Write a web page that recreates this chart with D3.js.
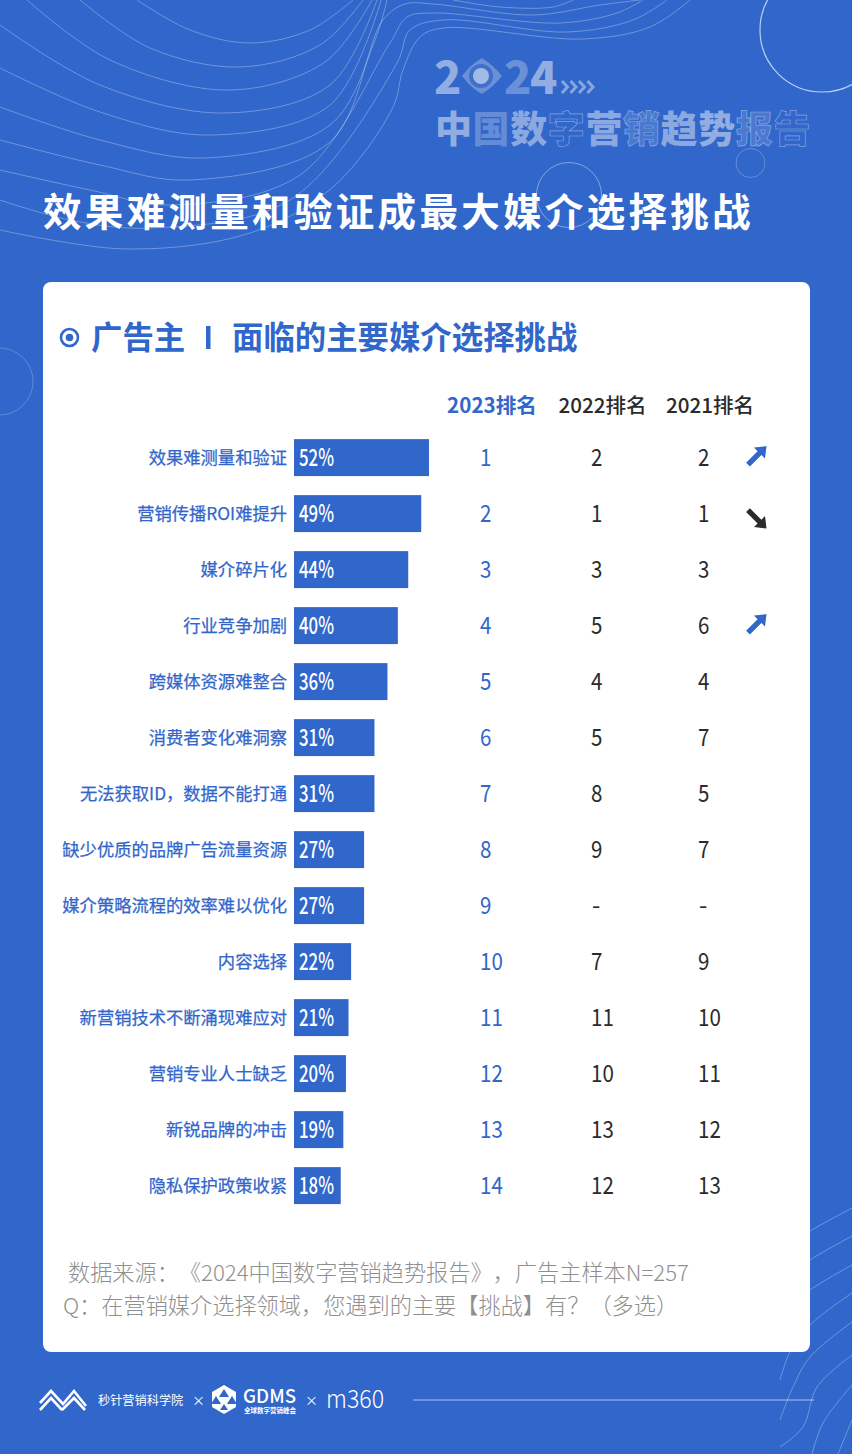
<!DOCTYPE html>
<html><head><meta charset="utf-8">
<script src="https://cdn.jsdelivr.net/npm/d3@7/dist/d3.min.js"></script>
<style>html,body{margin:0;padding:0;background:#3166ca}svg{display:block}text{font-family:"Noto Sans CJK SC","Noto Sans",sans-serif;text-spacing-trim:space-all;font-feature-settings:"chws" 0}</style>
</head><body><svg id="c" width="852" height="1454"></svg>
<script>
const categories=["效果难测量和验证","营销传播ROI难提升","媒介碎片化","行业竞争加剧","跨媒体资源难整合","消费者变化难洞察","无法获取ID，数据不能打通","缺少优质的品牌广告流量资源","媒介策略流程的效率难以优化","内容选择","新营销技术不断涌现难应对","营销专业人士缺乏","新锐品牌的冲击","隐私保护政策收紧"];
const shares=[52,49,44,40,36,31,31,27,27,22,21,20,19,18];
const rank2023=["1","2","3","4","5","6","7","8","9","10","11","12","13","14"];
const rank2022=["2","1","3","5","4","5","8","9","-","7","11","10","13","12"];
const rank2021=["2","1","3","6","4","7","5","7","-","9","10","11","12","13"];
const rankHeaders=["2023排名","2022排名","2021排名"];
const trends=["up","down",null,"up",null,null,null,null,null,null,null,null,null,null];
const blue="#3166ca",dark="#2b2b2b";
const svg=d3.select("#c");
svg.append("rect").attr("width",852).attr("height",1454).attr("fill",blue);

// decorative contours
const deco=svg.append("g").attr("fill","none").attr("stroke","#fff").attr("stroke-opacity",.3);
const curve=d3.line().curve(d3.curveCatmullRom.alpha(.5));
const contours=[
 [[137,0],[190,30],[250,43],[310,30],[353,0]],
 [[80,0],[150,48],[240,67],[320,45],[363,0]],
 [[27,0],[110,60],[230,90],[325,62],[372,0]],
 [[0,25],[100,85],[225,113],[330,85],[377,0]],
 [[0,68],[100,112],[210,135],[330,105],[381,0]],
 [[0,107],[100,140],[205,158],[330,125],[375,40],[387,0]],
 [[0,140],[100,165],[190,180],[330,142],[383,20],[405,4],[433,4],[533,15],[600,5],[640,0]],
 [[0,170],[90,190],[170,205],[300,175],[390,43],[407,17],[433,13],[560,23],[617,13],[643,0]],
 [[0,200],[70,220],[150,228],[290,200],[397,63],[410,30],[443,20],[567,32],[633,20],[667,0]],
 [[0,230],[127,249],[250,233],[333,187],[393,107],[403,70],[420,37],[443,28],[583,39],[650,27],[690,0]],
 [[453,0],[500,7],[553,7],[573,0]]
];
contours.forEach(p=>deco.append("path").attr("d",curve(p)));
const bottomContours=[
 [[852,1208],[810,1231],[780,1250]],
 [[852,1236],[810,1260],[780,1282]],
 [[852,1265],[810,1290],[780,1315]],
 [[852,1293],[810,1325],[790,1352],[780,1380]],
 [[852,1322],[810,1357],[793,1387],[780,1420]],
 [[852,1355],[817,1387],[803,1427],[780,1447]],
 [[852,1385],[823,1423],[812,1454]],
 [[852,1420],[838,1454]]
];
bottomContours.forEach(p=>deco.append("path").attr("d",curve(p)));
deco.append("circle").attr("cx",822).attr("cy",30).attr("r",62).attr("stroke","#cfe0ff").attr("stroke-opacity",.85).attr("stroke-width",1.2);
deco.append("circle").attr("cx",569).attr("cy",195).attr("r",32.5).attr("stroke-opacity",.4);
deco.append("circle").attr("cx",750.5).attr("cy",163).attr("r",14.5).attr("stroke-opacity",.25);
deco.append("circle").attr("cx",-0.5).attr("cy",381.5).attr("r",33.5).attr("stroke-opacity",.22);

// top-right title
const logo=svg.append("g").attr("fill","#fff");
logo.append("text").attr("x",434).attr("y",94).attr("font-size",45).attr("font-weight",900).attr("fill-opacity",.48).text("2");
logo.append("path").attr("d","M462 76 Q471 64 482 58 Q493 65 502 76 Q493 87 482 94 Q471 88 462 76 Z").attr("fill-opacity",.28);
logo.append("circle").attr("cx",481).attr("cy",76).attr("r",12).attr("fill",blue).attr("fill-opacity",.75);
logo.append("circle").attr("cx",481).attr("cy",76).attr("r",8).attr("fill-opacity",.52);
logo.append("text").attr("x",504).attr("y",94).attr("font-size",45).attr("font-weight",900).attr("fill-opacity",.3).text("2");
logo.append("text").attr("x",530).attr("y",94).attr("font-size",45).attr("font-weight",900).attr("fill-opacity",.48).text("4");
[0,1,2,3].forEach(i=>logo.append("path").attr("d",`M${562+i*8.5} 81 l5.5 6 l-5.5 6`).attr("fill","none").attr("stroke","#fff").attr("stroke-width",3).attr("stroke-opacity",.42));
const bannerChars=["中","国","数","字","营","销","趋","势","报","告"];
const bannerAlpha=[.48,.25,.45,0,.45,.12,.45,.48,.15,0];
const bannerOutlined=[0,0,0,1,0,1,0,0,1,1];
bannerChars.forEach((ch,i)=>{
  const t=logo.append("text").attr("x",435+i*37.6).attr("y",143).attr("font-size",37).attr("font-weight",900).attr("fill-opacity",bannerAlpha[i]).text(ch);
  if(bannerOutlined[i]) t.attr("stroke","#fff").attr("stroke-opacity",.4).attr("stroke-width",.7);
});

svg.append("text").attr("x",43).attr("y",226).attr("font-size",38.5).attr("font-weight",700).attr("fill","#fff").attr("letter-spacing",3.32).text("效果难测量和验证成最大媒介选择挑战");

// card
svg.append("rect").attr("x",43).attr("y",282).attr("width",767).attr("height",1070).attr("rx",8).attr("fill","#fff");
svg.append("circle").attr("cx",69.5).attr("cy",337.5).attr("r",8.5).attr("fill","none").attr("stroke",blue).attr("stroke-width",2.6);
svg.append("circle").attr("cx",69.5).attr("cy",337.5).attr("r",3.8).attr("fill",blue);
svg.append("text").attr("x",91).attr("y",349).attr("font-size",31.4).attr("font-weight",700).attr("fill",blue).text("广告主");
svg.append("rect").attr("x",206).attr("y",326).attr("width",4.5).attr("height",23).attr("fill",blue);
svg.append("text").attr("x",232).attr("y",349).attr("font-size",31.4).attr("font-weight",700).attr("fill",blue).text("面临的主要媒介选择挑战");

// scales
const y=d3.scaleBand().domain(categories).range([429.6,1213.6]).paddingInner(.34).paddingOuter(.17);
const x=d3.scaleLinear().domain([0,52]).range([294,429]);
const cols=d3.scaleOrdinal().domain(rankHeaders).range([480,591,698]);
const headX=[492,602.5,710];
rankHeaders.forEach((h,i)=>svg.append("text").attr("x",headX[i]).attr("y",413).attr("text-anchor","middle").attr("font-size",20.6).attr("font-weight",i?500:600).attr("fill",i?dark:blue).text(h));

const rows=svg.selectAll("g.row").data(categories).join("g").attr("class","row");
const cy=d=>y(d)+y.bandwidth()/2;
rows.append("text").attr("x",287).attr("y",d=>cy(d)+6.2).attr("text-anchor","end").attr("font-size",17.3).attr("fill",blue).attr("stroke",blue).attr("stroke-width",.25).text(d=>d);
rows.append("rect").attr("x",x(0)).attr("y",d=>y(d)).attr("height",y.bandwidth()).attr("width",(d,i)=>x(shares[i])-x(0)).attr("fill",blue);
rows.append("text").attr("x",299).attr("y",d=>cy(d)+8.5).attr("font-size",24).attr("font-weight",500).attr("fill","#fff")
  .attr("textLength",35).attr("lengthAdjust","spacingAndGlyphs").text((d,i)=>shares[i]+"%");
[[rank2023,blue],[rank2022,dark],[rank2021,dark]].forEach(([arr,col],k)=>{
  rows.append("text").attr("x",cols(rankHeaders[k])).attr("y",d=>cy(d)+8.5).attr("font-size",24).attr("fill",col)
   .each(function(d,i){const s=arr[i],t=d3.select(this).text(s);
     if(s!=="-"){t.attr("textLength",s.length*11.4).attr("lengthAdjust","spacingAndGlyphs");}
     else t.attr("dx",1);});
});
// trend arrows
rows.filter((d,i)=>trends[i]).each(function(d){
  const i=categories.indexOf(d),up=trends[i]==="up";
  const c=cy(d),g=d3.select(this).append("g").attr("transform",`translate(756,${up?c-1:c+4.5}) rotate(${up?0:90})`).attr("fill",up?blue:dark);
  g.append("path").attr("d","M-9.9 6.1 L1.6 -5.4 L-2 -9 L10.5 -10.5 L9 2 L5.4 -1.6 L-6.1 9.9 Z");
});

// source notes
svg.append("text").attr("x",68).attr("y",1281).attr("font-size",22.2).attr("font-weight",300).attr("fill","#8f8f8f").text("数据来源：《2024中国数字营销趋势报告》，广告主样本N=257");
svg.append("text").attr("x",63).attr("y",1314).attr("font-size",22.2).attr("font-weight",300).attr("fill","#8f8f8f").text("Q：在营销媒介选择领域，您遇到的主要【挑战】有？（多选）");

// footer
const f=svg.append("g").attr("fill","#fff");
f.append("path").attr("d","M40 1403 L51 1391 L63 1404 L74 1391 L86 1406 M40 1410 L51 1398 L62 1410 M62 1410 L74 1398 L85 1410").attr("fill","none").attr("stroke","#fff").attr("stroke-width",2.6);
f.append("text").attr("x",98).attr("y",1405).attr("font-size",12.2).text("秒针营销科学院");
f.append("text").attr("x",192).attr("y",1405).attr("font-size",13).text("×");
f.append("path").attr("d","M224 1385 L236 1392 L236 1407 L224 1414 L212 1407 L212 1392 Z");
["M224 1389 l5 8 h-10 Z","M216 1396 l5 8 h-10 Z","M232 1396 l5 8 h-10 Z","M224 1404 l4 6 h-8 Z"].forEach(d=>f.append("path").attr("d",d).attr("fill",blue));
f.append("text").attr("x",243).attr("y",1403).attr("font-size",19).attr("font-weight",500).attr("textLength",53).attr("lengthAdjust","spacingAndGlyphs").text("GDMS");
f.append("text").attr("x",244).attr("y",1413).attr("font-size",6.5).attr("font-weight",700).text("全球数字营销峰会");
f.append("text").attr("x",305).attr("y",1405).attr("font-size",13).text("×");
f.append("text").attr("x",326).attr("y",1408).attr("font-size",25).attr("font-weight",300).attr("textLength",58).attr("lengthAdjust","spacingAndGlyphs").text("m360");
f.append("line").attr("x1",413).attr("x2",814).attr("y1",1400).attr("y2",1400).attr("stroke","#fff").attr("stroke-opacity",.6);
</script></body></html>
